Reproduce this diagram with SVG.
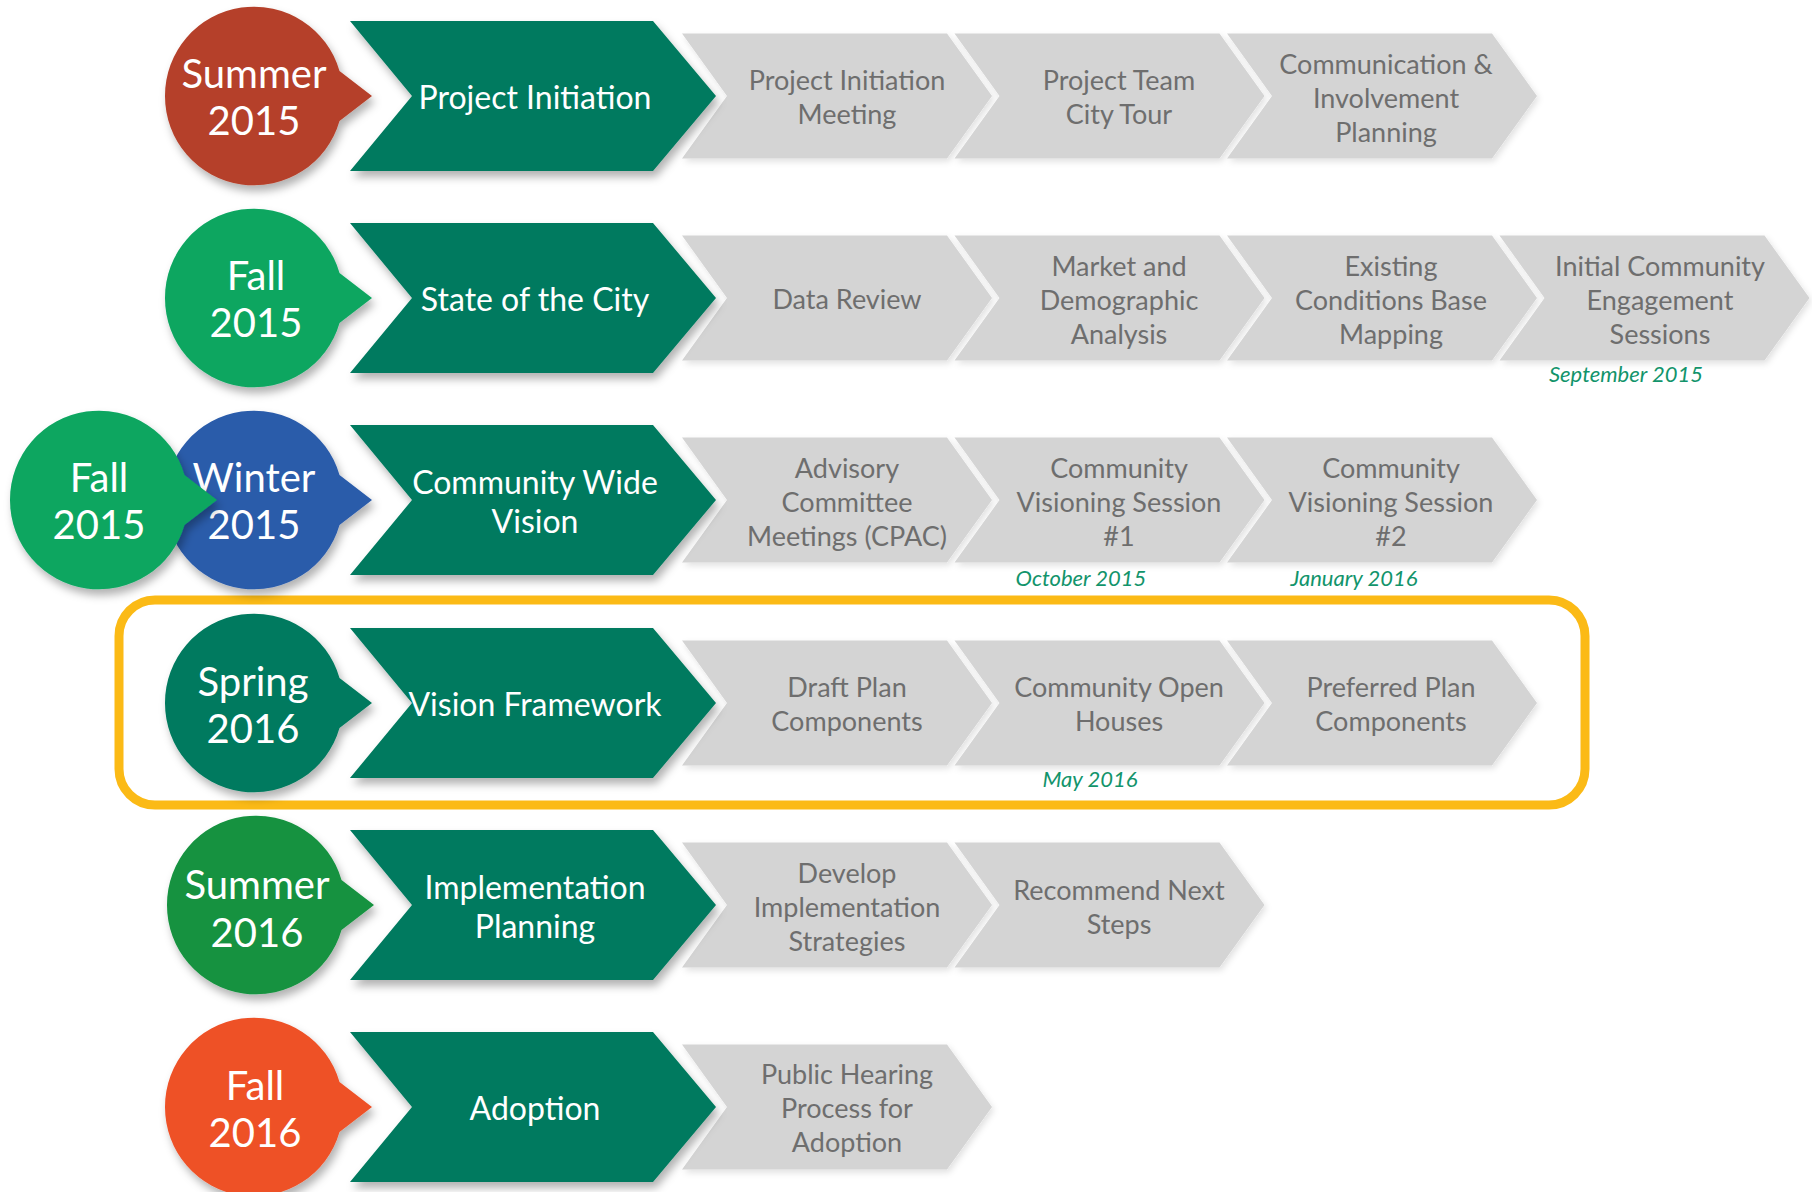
<svg xmlns="http://www.w3.org/2000/svg" width="1812" height="1192" viewBox="0 0 1812 1192">
<style>
.bg{fill:#ffffff}
.phase{fill:#067A5E}
.step{fill:#D4D4D4}
.ct{font-family:Lato,"Liberation Sans",sans-serif;font-size:40px;fill:#ffffff;text-anchor:middle;dominant-baseline:central}
.pt{font-family:Lato,"Liberation Sans",sans-serif;font-size:32px;fill:#ffffff;text-anchor:middle;dominant-baseline:central}
.st{font-family:Lato,"Liberation Sans",sans-serif;font-size:27px;fill:#6E6E6E;text-anchor:middle;dominant-baseline:central}
.dt{font-family:Lato,"Liberation Sans",sans-serif;font-size:22px;font-style:italic;fill:#12946B;text-anchor:middle;dominant-baseline:central}
.hl{fill:none;stroke:#FBBA16;stroke-width:9}
</style>
<defs>
<filter id="sh" x="-20%" y="-20%" width="140%" height="150%">
<feDropShadow dx="3" dy="6" stdDeviation="4" flood-color="#000" flood-opacity="0.3"/>
</filter>
<filter id="sh2" x="-20%" y="-20%" width="140%" height="150%">
<feDropShadow dx="2" dy="3" stdDeviation="3" flood-color="#000" flood-opacity="0.12"/>
</filter>
<path id="gch" d="M0,-62.5 L265,-62.5 L310,0 L265,62.5 L0,62.5 L45,0 Z"/>
<path id="pch" d="M350,-75 L653,-75 L716,0 L653,75 L350,75 L412,0 Z"/>
<path id="bub" d="M-89,0 A89,89 0 0 1 85.5,-25 L118,0 L85.5,25 A89,89 0 0 1 -89,0 Z"/>
</defs>
<rect class="bg" x="0" y="0" width="1812" height="1192"/>

<g id="highlight">
<rect class="hl" x="119" y="600" width="1466" height="205" rx="36"/>
</g>

<g id="connectors"></g>

<!-- Row 1 -->
<g id="row1">
<g id="r1-steps" class="step" filter="url(#sh2)">
<use href="#gch" x="682" y="96"/>
<use href="#gch" x="954.5" y="96"/>
<use href="#gch" x="1227" y="96"/>
</g>
<g id="r1-phase"><use href="#pch" y="96" class="phase" filter="url(#sh)"/><text class="pt" x="535" y="96">Project Initiation</text></g>
<g id="r1-season"><use href="#bub" x="254" y="96" fill="#B5412A" filter="url(#sh)"/><text class="ct" x="254" y="73">Summer</text><text class="ct" x="254" y="120">2015</text></g>
<g id="r1-s1"><text class="st" x="847" y="79">Project Initiation</text><text class="st" x="847" y="113">Meeting</text></g>
<g id="r1-s2"><text class="st" x="1119" y="79">Project Team</text><text class="st" x="1119" y="113">City Tour</text></g>
<g id="r1-s3"><text class="st" x="1386" y="63">Communication &amp;</text><text class="st" x="1386" y="97">Involvement</text><text class="st" x="1386" y="131">Planning</text></g>
</g>

<!-- Row 2 -->
<g id="row2">
<g id="r2-steps" class="step" filter="url(#sh2)">
<use href="#gch" x="682" y="298"/>
<use href="#gch" x="954.5" y="298"/>
<use href="#gch" x="1227" y="298"/>
<use href="#gch" x="1499.5" y="298"/>
</g>
<g id="r2-phase"><use href="#pch" y="298" class="phase" filter="url(#sh)"/><text class="pt" x="535" y="298">State of the City</text></g>
<g id="r2-season"><use href="#bub" x="254" y="298" fill="#0AA660" filter="url(#sh)"/><text class="ct" x="256" y="275">Fall</text><text class="ct" x="256" y="322">2015</text></g>
<g id="r2-s1"><text class="st" x="847" y="298">Data Review</text></g>
<g id="r2-s2"><text class="st" x="1119" y="265">Market and</text><text class="st" x="1119" y="299">Demographic</text><text class="st" x="1119" y="333">Analysis</text></g>
<g id="r2-s3"><text class="st" x="1391" y="265">Existing</text><text class="st" x="1391" y="299">Conditions Base</text><text class="st" x="1391" y="333">Mapping</text></g>
<g id="r2-s4"><text class="st" x="1660" y="265">Initial Community</text><text class="st" x="1660" y="299">Engagement</text><text class="st" x="1660" y="333">Sessions</text></g>
<text class="dt" x="1626" y="373">September 2015</text>
</g>

<!-- Row 3 -->
<g id="row3">
<g id="r3-steps" class="step" filter="url(#sh2)">
<use href="#gch" x="682" y="500"/>
<use href="#gch" x="954.5" y="500"/>
<use href="#gch" x="1227" y="500"/>
</g>
<g id="r3-phase"><use href="#pch" y="500" class="phase" filter="url(#sh)"/><text class="pt" x="535" y="481">Community Wide</text><text class="pt" x="535" y="520">Vision</text></g>
<g id="r3-season2"><use href="#bub" x="254" y="500" fill="#2A5BAA" filter="url(#sh)"/><text class="ct" x="254" y="477">Winter</text><text class="ct" x="254" y="524">2015</text></g>
<g id="r3-season1"><use href="#bub" x="99" y="500" fill="#0AA660" filter="url(#sh)"/><text class="ct" x="99" y="477">Fall</text><text class="ct" x="99" y="524">2015</text></g>
<g id="r3-s1"><text class="st" x="847" y="467">Advisory</text><text class="st" x="847" y="501">Committee</text><text class="st" x="847" y="535">Meetings (CPAC)</text></g>
<g id="r3-s2"><text class="st" x="1119" y="467">Community</text><text class="st" x="1119" y="501">Visioning Session</text><text class="st" x="1119" y="535">#1</text></g>
<g id="r3-s3"><text class="st" x="1391" y="467">Community</text><text class="st" x="1391" y="501">Visioning Session</text><text class="st" x="1391" y="535">#2</text></g>
<text class="dt" x="1081" y="577">October 2015</text>
<text class="dt" x="1354" y="577">January 2016</text>
</g>

<!-- Row 4 -->
<g id="row4">
<g id="r4-steps" class="step" filter="url(#sh2)">
<use href="#gch" x="682" y="703"/>
<use href="#gch" x="954.5" y="703"/>
<use href="#gch" x="1227" y="703"/>
</g>
<g id="r4-phase"><use href="#pch" y="703" class="phase" filter="url(#sh)"/><text class="pt" x="535" y="703">Vision Framework</text></g>
<g id="r4-season"><use href="#bub" x="254" y="703" fill="#067A5E" filter="url(#sh)"/><text class="ct" x="253" y="681">Spring</text><text class="ct" x="253" y="728">2016</text></g>
<g id="r4-s1"><text class="st" x="847" y="686">Draft Plan</text><text class="st" x="847" y="720">Components</text></g>
<g id="r4-s2"><text class="st" x="1119" y="686">Community Open</text><text class="st" x="1119" y="720">Houses</text></g>
<g id="r4-s3"><text class="st" x="1391" y="686">Preferred Plan</text><text class="st" x="1391" y="720">Components</text></g>
<text class="dt" x="1090" y="778">May 2016</text>
</g>

<!-- Row 5 -->
<g id="row5">
<g id="r5-steps" class="step" filter="url(#sh2)">
<use href="#gch" x="682" y="905"/>
<use href="#gch" x="954.5" y="905"/>
</g>
<g id="r5-phase"><use href="#pch" y="905" class="phase" filter="url(#sh)"/><text class="pt" x="535" y="886">Implementation</text><text class="pt" x="535" y="925">Planning</text></g>
<g id="r5-season"><use href="#bub" x="256" y="905" fill="#14923F" filter="url(#sh)"/><text class="ct" x="257" y="884">Summer</text><text class="ct" x="257" y="932">2016</text></g>
<g id="r5-s1"><text class="st" x="847" y="872">Develop</text><text class="st" x="847" y="906">Implementation</text><text class="st" x="847" y="940">Strategies</text></g>
<g id="r5-s2"><text class="st" x="1119" y="889">Recommend Next</text><text class="st" x="1119" y="923">Steps</text></g>
</g>

<!-- Row 6 -->
<g id="row6">
<g id="r6-steps" class="step" filter="url(#sh2)">
<use href="#gch" x="682" y="1107"/>
</g>
<g id="r6-phase"><use href="#pch" y="1107" class="phase" filter="url(#sh)"/><text class="pt" x="535" y="1107">Adoption</text></g>
<g id="r6-season"><use href="#bub" x="254" y="1107" fill="#EE5128" filter="url(#sh)"/><text class="ct" x="255" y="1085">Fall</text><text class="ct" x="255" y="1132">2016</text></g>
<g id="r6-s1"><text class="st" x="847" y="1073">Public Hearing</text><text class="st" x="847" y="1107">Process for</text><text class="st" x="847" y="1141">Adoption</text></g>
</g>
</svg>
